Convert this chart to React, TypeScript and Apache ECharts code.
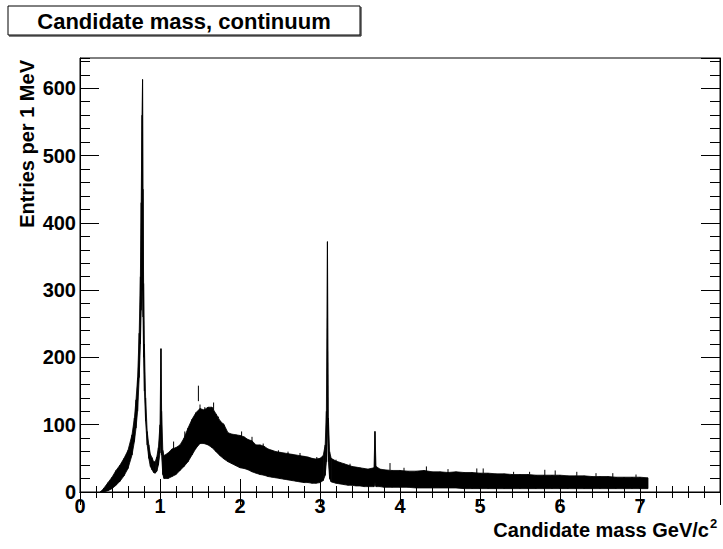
import React, { useEffect, useRef } from "react";
import * as echarts from "echarts";

// Candidate mass (GeV/c^2) sample points of the histogram envelope
const massGeV = [
  0.25, 0.28, 0.3, 0.35, 0.4, 0.45, 0.5, 0.55, 0.6, 0.65, 0.68, 0.7, 0.72, 0.74, 0.755, 0.765, 0.775, 0.782, 0.788,
  0.795, 0.805, 0.82, 0.84, 0.86, 0.88, 0.9, 0.92, 0.94, 0.96, 0.98, 1.0, 1.012, 1.02, 1.035, 1.05, 1.1, 1.15, 1.2,
  1.25, 1.3, 1.35, 1.4, 1.45, 1.5, 1.55, 1.6, 1.65, 1.7, 1.75, 1.8, 1.85, 1.9, 1.95, 2.0, 2.05, 2.1, 2.15, 2.2, 2.25,
  2.3, 2.35, 2.4, 2.45, 2.5, 2.55, 2.6, 2.65, 2.7, 2.75, 2.8, 2.85, 2.9, 2.95, 3.0, 3.04, 3.065, 3.08, 3.093, 3.105,
  3.12, 3.14, 3.2, 3.25, 3.3, 3.35, 3.4, 3.45, 3.5, 3.55, 3.6, 3.675, 3.687, 3.7, 3.75, 3.8, 3.9, 4.0, 4.1, 4.2, 4.3,
  4.4, 4.5, 4.6, 4.7, 4.8, 4.9, 5.0, 5.1, 5.2, 5.3, 5.4, 5.5, 5.6, 5.7, 5.8, 5.9, 6.0, 6.1, 6.2, 6.3, 6.4, 6.5, 6.6,
  6.7, 6.8, 6.9, 7.0, 7.1,
];
// Lower edge of the dense band (entries per 1 MeV)
const lowerEnv = [
  0, 0, 0, 2, 5, 10, 16, 24, 35, 55, 75, 95, 120, 170, 220, 270, 300, 300, 260,
  200, 150, 105, 70, 50, 38, 33, 29, 28, 31, 40, 58, 85, 55, 26, 20, 20, 23, 26,
  32, 38, 45, 55, 65, 72, 72, 70, 66, 60, 54, 49, 45, 42, 39, 36, 35, 33, 30, 28, 26,
  25, 23, 22, 21, 20, 19, 18, 17, 16, 15, 14, 14, 13, 13, 14, 17, 25, 45, 100, 45,
  20, 15, 13, 12, 11, 10, 10, 9, 9, 8, 8, 8, 15, 8, 8, 7, 7, 7, 7, 6, 6,
  6, 6, 6, 6, 5, 5, 5, 5, 5, 5, 5, 5, 5, 5, 5, 5, 5, 5, 5, 5, 5, 5, 5,
  5, 5, 5, 5, 5,
];
// Upper edge of the dense band (entries per 1 MeV)
const upperEnv = [
  0, 3, 6, 14, 22, 32, 40, 50, 62, 85, 110, 137, 170, 236, 320, 430, 560, 613, 450,
  310, 220, 140, 90, 70, 56, 51, 45, 45, 52, 66, 100, 213, 120, 62, 54, 58, 64, 66,
  70, 80, 95, 108, 118, 124, 122, 126, 126, 116, 106, 100, 88, 86, 85, 84, 82, 78, 76, 70, 70,
  68, 64, 62, 60, 59, 58, 57, 56, 55, 54, 53, 52, 50, 49, 50, 54, 70, 120, 372, 110,
  60, 50, 46, 44, 42, 40, 38, 37, 36, 35, 34, 36, 90, 38, 34, 33, 32, 32, 31, 31, 32,
  30, 30, 29, 30, 29, 29, 28, 28, 27, 27, 26, 26, 26, 25, 25, 25, 25, 24, 24, 24, 23, 23, 23,
  22, 22, 22, 22, 21,
];
// Single-bin spikes sticking out of the band: mass, band top, spike top
const spikeMass = [
  1.17, 1.31, 1.48, 1.5, 1.56, 1.67, 1.73, 1.79, 2.02, 2.15, 2.29, 2.48, 2.6, 2.75, 2.96, 3.2, 3.375, 3.875, 4.05,
  4.33, 4.6, 4.96, 5.04, 5.42, 5.62, 5.81, 5.94, 6.21, 6.45, 6.66, 6.95,
];
const spikeLow = [
  62, 80, 135, 120, 118, 122, 110, 98, 82, 74, 66, 58, 56, 52, 48, 44, 38, 32, 31,
  30, 28, 28, 28, 26, 26, 25, 25, 24, 23, 22, 22,
];
const spikeHigh = [
  75, 90, 158, 130, 126, 133, 112, 102, 90, 82, 72, 62, 60, 58, 52, 48, 42, 43, 36,
  38, 34, 35, 35, 30, 30, 33, 32, 30, 28, 28, 26,
];

const xTickLabels = ["0", "1", "2", "3", "4", "5", "6", "7"];
const yTickLabels = ["0", "100", "200", "300", "400", "500", "600"];

const FONT = "Liberation Sans, Arial, Helvetica, sans-serif";

export default function App() {
  const ref = useRef<HTMLDivElement>(null);

  useEffect(() => {
    if (!ref.current) return;
    const chart = echarts.init(ref.current, null, { renderer: "svg" });

    const segs: number[][] = [];
    for (let i = 0; i < massGeV.length - 1; i++) {
      segs.push([massGeV[i], lowerEnv[i], upperEnv[i], massGeV[i + 1], lowerEnv[i + 1], upperEnv[i + 1]]);
    }
    const spikes = spikeMass.map((m, i) => [m, spikeLow[i], spikeHigh[i]]);

    const black = { color: "#000", width: 1 };
    const xBase = {
      type: "value" as const,
      min: 0,
      max: 8,
      interval: 1,
      axisLine: { show: true, lineStyle: black },
      axisTick: { show: true, inside: true, length: 13, lineStyle: black },
      minorTick: { show: true, splitNumber: 5, length: 6, lineStyle: black },
      splitLine: { show: false },
      minorSplitLine: { show: false },
    };
    const yMajor = {
      type: "value" as const,
      min: 0,
      max: 645,
      interval: 100,
      axisLine: { show: true, lineStyle: black },
      axisTick: { show: true, inside: true, length: 19, lineStyle: black },
      splitLine: { show: false },
    };
    const yMinor = {
      type: "value" as const,
      min: 0,
      max: 645,
      interval: 20,
      axisLine: { show: false },
      axisTick: { show: true, inside: true, length: 10, lineStyle: black },
      axisLabel: { show: false },
      splitLine: { show: false },
    };

    chart.setOption({
      animation: false,
      backgroundColor: "#ffffff",
      grid: {
        left: 80,
        right: 3,
        top: 58,
        bottom: 57,
        show: true,
        borderColor: "#000",
        borderWidth: 1,
        backgroundColor: "transparent",
      },
      xAxis: [
        {
          ...xBase,
          position: "bottom",
          axisLabel: {
            show: true,
            margin: 4,
            color: "#000",
            fontFamily: FONT,
            fontWeight: "bold",
            fontSize: 20,
            showMaxLabel: false,
            formatter: (v: number) => xTickLabels[Math.round(v)] ?? "",
          },
        },
        { ...xBase, position: "top", axisLabel: { show: false } },
      ],
      yAxis: [
        {
          ...yMajor,
          position: "left",
          axisLabel: {
            show: true,
            margin: 4,
            color: "#000",
            fontFamily: FONT,
            fontWeight: "bold",
            fontSize: 20,
            showMaxLabel: false,
            formatter: (v: number) => yTickLabels[Math.round(v / 100)] ?? "",
          },
        },
        { ...yMinor, position: "left" },
        { ...yMajor, position: "right", axisLabel: { show: false } },
        { ...yMinor, position: "right" },
      ],
      series: [
        {
          type: "custom",
          xAxisIndex: 0,
          yAxisIndex: 0,
          clip: true,
          data: segs,
          renderItem: (params: any, api: any) => {
            const a = api.coord([api.value(0), api.value(1)]);
            const b = api.coord([api.value(0), api.value(2)]);
            const c = api.coord([api.value(3), api.value(5)]);
            const d = api.coord([api.value(3), api.value(4)]);
            return {
              type: "polygon",
              shape: { points: [a, b, c, d] },
              style: { fill: "#000", stroke: "#000", lineWidth: 0.8 },
            };
          },
        },
        {
          type: "custom",
          xAxisIndex: 0,
          yAxisIndex: 0,
          clip: true,
          data: spikes,
          renderItem: (params: any, api: any) => {
            const p1 = api.coord([api.value(0), api.value(1)]);
            const p2 = api.coord([api.value(0), api.value(2)]);
            return {
              type: "line",
              shape: { x1: p1[0], y1: p1[1], x2: p2[0], y2: p2[1] },
              style: { stroke: "#000", lineWidth: 1 },
            };
          },
        },
      ],
      graphic: [
        {
          type: "rect",
          shape: { x: 8, y: 6, width: 352, height: 29 },
          style: { fill: "#fff", stroke: "#000", lineWidth: 1 },
        },
        {
          type: "line",
          shape: { x1: 361, y1: 7, x2: 361, y2: 36 },
          style: { stroke: "#000", lineWidth: 1 },
        },
        {
          type: "line",
          shape: { x1: 9, y1: 36, x2: 361, y2: 36 },
          style: { stroke: "#000", lineWidth: 1 },
        },
        {
          type: "text",
          x: 184,
          y: 21,
          style: {
            text: "Candidate mass, continuum",
            fill: "#000",
            font: `bold 22px ${FONT}`,
            textAlign: "center",
            textVerticalAlign: "middle",
          },
        },
        {
          type: "text",
          x: 27,
          y: 60,
          rotation: Math.PI / 2,
          style: {
            text: "Entries per 1 MeV",
            fill: "#000",
            font: `bold 20px ${FONT}`,
            textAlign: "right",
            textVerticalAlign: "middle",
          },
        },
        {
          type: "text",
          x: 709,
          y: 530,
          style: {
            text: "Candidate mass GeV/c",
            fill: "#000",
            font: `bold 20px ${FONT}`,
            textAlign: "right",
            textVerticalAlign: "middle",
          },
        },
        {
          type: "text",
          x: 710,
          y: 523,
          style: {
            text: "2",
            fill: "#000",
            font: `bold 13px ${FONT}`,
            textAlign: "left",
            textVerticalAlign: "middle",
          },
        },
      ],
    });

    return () => chart.dispose();
  }, []);

  return (
    <div
      ref={ref}
      style={{ position: "fixed", left: 0, top: 0, width: 723, height: 549, background: "#fff" }}
    />
  );
}
